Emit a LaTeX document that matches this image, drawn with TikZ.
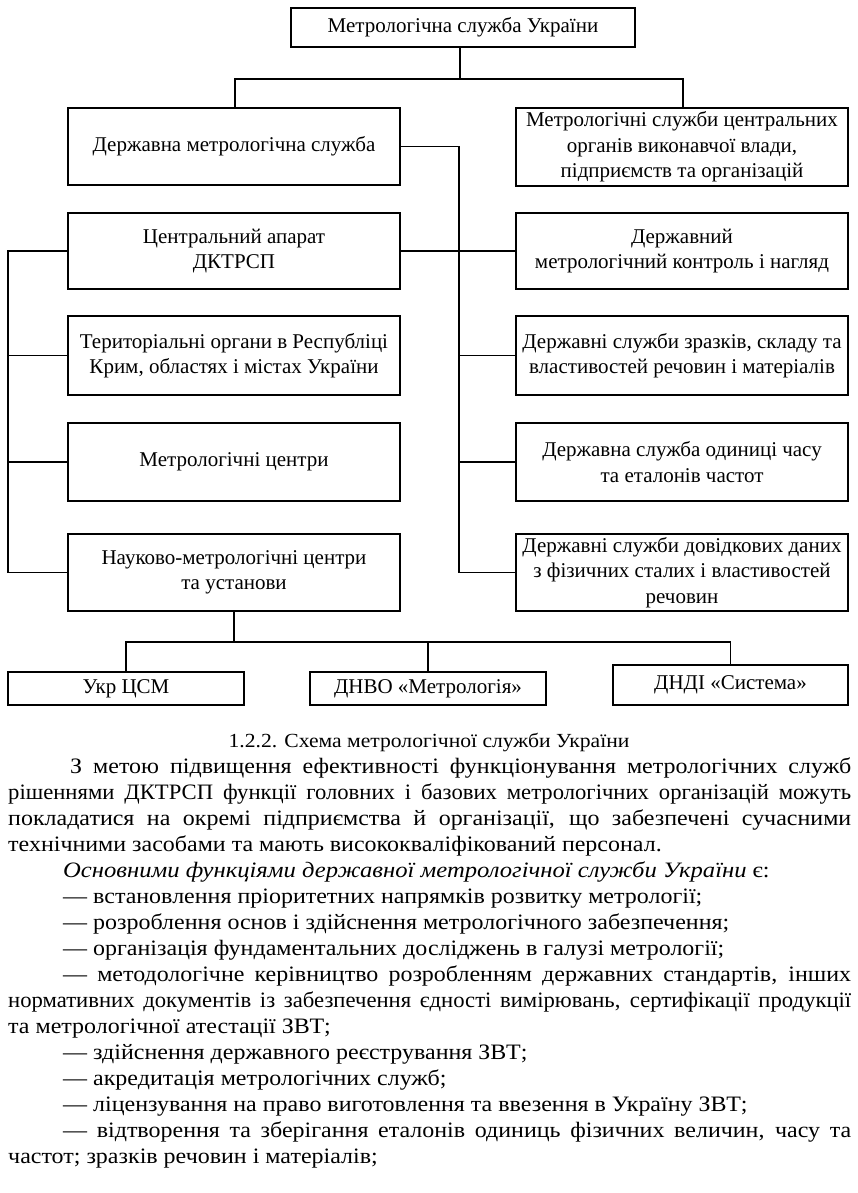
\documentclass[tikz,border=0pt]{standalone}
\usepackage{fontspec}
\setmainfont{Liberation Serif}
\newfontfamily\diagfont{Liberation Serif}
\newfontfamily\bodyfont{Liberation Serif}[FakeStretch=1.09]
\newfontfamily\bodytight{Liberation Serif}[FakeStretch=1.03]
\newfontfamily\bodyit{Liberation Serif}[FakeStretch=1.12]
\newfontfamily\capfont{Liberation Serif}[FakeStretch=1.08]
\begin{document}
\begin{tikzpicture}[x=1pt,y=-1pt,
  box/.style={draw, line width=1.9pt, align=center, inner sep=0pt,
    font=\diagfont\fontsize{21}{25.5}\selectfont},
  link/.style={line width=1.9pt},
  txt/.style={anchor=base west, inner sep=0pt, font=\bodyfont\fontsize{22}{26}\selectfont},
  captext/.style={anchor=base, inner sep=0pt, font=\capfont\fontsize{20}{24}\selectfont}]
\path[fill=white, use as bounding box] (0,0) rectangle (857,1193);
% boxes
\node[box, minimum width=344pt, minimum height=39pt] (top) at (463,27.5) {Метрологічна служба України};
\node[box, minimum width=332pt, minimum height=77pt] (dms) at (234,146.5) {Державна метрологічна служба};
\node[box, minimum width=332pt, minimum height=78pt] (rtop) at (682,147) {Метрологічні служби центральних\\органів виконавчої влади,\\підприємств та організацій};
\node[box, minimum width=332pt, minimum height=76pt] (capp) at (234,251) {Центральний апарат\\ДКТРСП};
\node[box, minimum width=332pt, minimum height=79pt] (ter) at (234,355.5) {Територіальні органи в Республіці\\Крим, областях і містах України};
\node[box, minimum width=332pt, minimum height=78pt] (mc) at (234,462) {Метрологічні центри};
\node[box, minimum width=332pt, minimum height=77pt] (nmc) at (234,572.5) {Науково-метрологічні центри\\та установи};
\node[box, minimum width=332pt, minimum height=76pt] (r2) at (682,251) {Державний\\метрологічний контроль і нагляд};
\node[box, minimum width=332pt, minimum height=79pt] (r3) at (682,355.5) {Державні служби зразків, складу та\\властивостей речовин і матеріалів};
\node[box, minimum width=332pt, minimum height=78pt] (r4) at (682,462) {Державна служба одиниці часу\\та еталонів частот};
\node[box, minimum width=332pt, minimum height=77pt] (r5) at (682,572.5) {Державні служби довідкових даних\\з фізичних сталих і властивостей\\речовин};
\node[box, minimum width=236pt, minimum height=33pt] (ukr) at (126,688.5) {Укр ЦСМ};
\node[box, minimum width=236pt, minimum height=33pt] (dnvo) at (428,688.5) {ДНВО «Метрологія»};
\node[box, minimum width=235pt, minimum height=40pt] (dndi) at (730.5,685) {ДНДІ «Система»};
% connectors
\coordinate (j1) at (460,79);
\coordinate (jl) at (235,79);
\coordinate (jr) at (683,79);
\coordinate (rb) at (459,146);
\coordinate (lb) at (8,300);
\coordinate (bj) at (236,642);
\draw[link] (top.south -| j1) -- (j1);
\draw[link] (dms.north -| jl) -- (jl) -- (jr) -- (rtop.north -| jr);
\draw[link] (dms.east) -- (dms.east -| rb) -- (r5.west -| rb) -- (r5.west);
\draw[link] (capp.east) -- (r2.west);
\draw[link] (r3.west -| rb) -- (r3.west);
\draw[link] (r4.west -| rb) -- (r4.west);
\draw[link] (capp.west) -- (capp.west -| lb) -- (nmc.west -| lb) -- (nmc.west);
\draw[link] (ter.west -| lb) -- (ter.west);
\draw[link] (mc.west -| lb) -- (mc.west);
\draw[link] (nmc.south) -- (nmc.south |- bj);
\draw[link] (ukr.north) -- (ukr.north |- bj) -- (dndi.north |- bj) -- (dndi.north);
\draw[link] (dnvo.north) -- (dnvo.north |- bj);
% caption and text
\node[captext] (caption) at (429,747) {1.2.2. Схема метрологічної служби України};
\node[txt] (l1) at (70,773) {\makebox[781pt][s]{З метою підвищення ефективності функціонування метрологічних служб}};
\node[txt] (l2) at (8,799) {\bodytight\makebox[843pt][s]{рішеннями ДКТРСП функції головних і базових метрологічних організацій можуть}};
\node[txt] (l3) at (8,825) {\makebox[843pt][s]{покладатися на окремі підприємства й організації, що забезпечені сучасними}};
\node[txt] (l4) at (8,851) {технічними засобами та мають висококваліфікований персонал.};
\node[txt] (l5) at (63,877) {{\bodyit\itshape Основними функціями державної метрологічної служби України} є:};
\node[txt] (l6) at (63,903) {— встановлення пріоритетних напрямків розвитку метрології;};
\node[txt] (l7) at (63,929) {— розроблення основ і здійснення метрологічного забезпечення;};
\node[txt] (l8) at (63,955) {— організація фундаментальних досліджень в галузі метрології;};
\node[txt] (l9) at (63,981) {\makebox[788pt][s]{— методологічне керівництво розробленням державних стандартів, інших}};
\node[txt] (l10) at (8,1007) {\bodytight\makebox[843pt][s]{нормативних документів із забезпечення єдності вимірювань, сертифікації продукції}};
\node[txt] (l11) at (8,1033) {та метрологічної атестації ЗВТ;};
\node[txt] (l12) at (63,1059) {— здійснення державного реєстрування ЗВТ;};
\node[txt] (l13) at (63,1085) {— акредитація метрологічних служб;};
\node[txt] (l14) at (63,1111) {— ліцензування на право виготовлення та ввезення в Україну ЗВТ;};
\node[txt] (l15) at (63,1137) {\makebox[788pt][s]{— відтворення та зберігання еталонів одиниць фізичних величин, часу та}};
\node[txt] (l16) at (8,1163) {частот; зразків речовин і матеріалів;};
\end{tikzpicture}
\end{document}
